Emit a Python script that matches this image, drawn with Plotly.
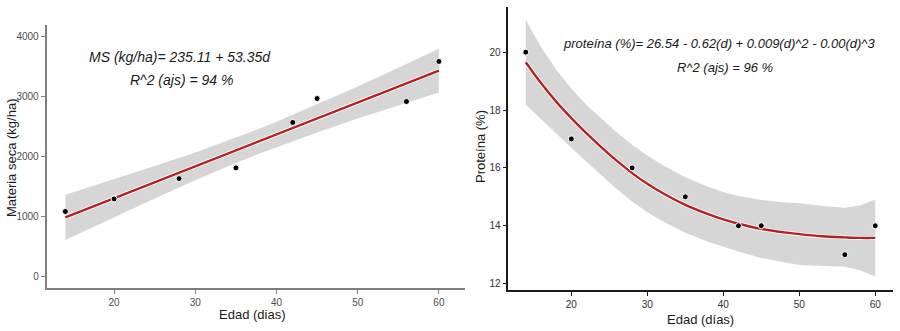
import plotly.graph_objects as go

# ---------------- data ----------------
edad = [14, 20, 28, 35, 42, 45, 56, 60]
materia_seca = [1080, 1290, 1630, 1810, 2570, 2970, 2920, 3590]
proteina = [20, 17, 16, 15, 14, 14, 13, 14]

# fitted line + 95% band (left panel)
ms_fit_x = [14, 20, 25, 30, 35, 37.5, 40, 45, 50, 55, 60]
ms_fit_y = [982, 1302, 1569, 1836, 2103, 2236, 2370, 2636, 2903, 3170, 3437]
ms_lo = [602, 984, 1299, 1604, 1891, 2028, 2158, 2401, 2635, 2855, 3072]
ms_hi = [1362, 1620, 1839, 2068, 2315, 2444, 2582, 2871, 3171, 3485, 3802]

# fitted curve + 95% band (right panel)
pr_fit_x = [14, 16, 18, 20, 22, 24, 26, 28, 30, 32, 35, 38, 40, 42, 45, 48, 50, 53, 56, 58, 60]
pr_fit_y = [19.65, 18.93, 18.29, 17.72, 17.19, 16.70, 16.24, 15.82, 15.45, 15.13, 14.72,
            14.40, 14.22, 14.07, 13.89, 13.77, 13.71, 13.64, 13.60, 13.58, 13.58]
pr_lo = [18.18, 17.68, 17.19, 16.70, 16.21, 15.72, 15.26, 14.84, 14.47, 14.16, 13.76,
         13.45, 13.27, 13.11, 12.89, 12.74, 12.64, 12.60, 12.58, 12.46, 12.25]
pr_hi = [21.12, 20.18, 19.39, 18.74, 18.17, 17.68, 17.22, 16.80, 16.43, 16.10, 15.68,
         15.35, 15.17, 15.03, 14.89, 14.80, 14.78, 14.68, 14.62, 14.70, 14.91]

ms_ticks = [0, 1000, 2000, 3000, 4000]
pr_ticks = [12, 14, 16, 18, 20]
x_ticks = [20, 30, 40, 50, 60]

W, H = 900, 331


def px(x):
    return x / W


def py(y):
    return 1 - y / H


FONT = "Arial, Liberation Sans, sans-serif"
RIBBON = "rgba(153,153,153,0.4)"
RED = "#B22222"

fig = go.Figure()

# ---- left panel ----
fig.add_trace(go.Scatter(x=ms_fit_x + ms_fit_x[::-1], y=ms_hi + ms_lo[::-1], fill="toself",
                         fillcolor=RIBBON, line=dict(width=0), mode="lines",
                         hoverinfo="skip", xaxis="x", yaxis="y"))
fig.add_trace(go.Scatter(x=ms_fit_x, y=ms_fit_y, mode="lines",
                         line=dict(color="white", width=4), xaxis="x", yaxis="y"))
fig.add_trace(go.Scatter(x=ms_fit_x, y=ms_fit_y, mode="lines",
                         line=dict(color=RED, width=2.4), xaxis="x", yaxis="y"))
fig.add_trace(go.Scatter(x=edad, y=materia_seca, mode="markers",
                         marker=dict(color="black", size=6, line=dict(color="white", width=1)),
                         xaxis="x", yaxis="y"))

# ---- right panel ----
fig.add_trace(go.Scatter(x=pr_fit_x + pr_fit_x[::-1], y=pr_hi + pr_lo[::-1], fill="toself",
                         fillcolor=RIBBON, line=dict(width=0), mode="lines",
                         hoverinfo="skip", xaxis="x2", yaxis="y2"))
fig.add_trace(go.Scatter(x=pr_fit_x, y=pr_fit_y, mode="lines", line_shape="spline",
                         line=dict(color="white", width=4), xaxis="x2", yaxis="y2"))
fig.add_trace(go.Scatter(x=pr_fit_x, y=pr_fit_y, mode="lines", line_shape="spline",
                         line=dict(color=RED, width=2.4), xaxis="x2", yaxis="y2"))
fig.add_trace(go.Scatter(x=edad, y=proteina, mode="markers",
                         marker=dict(color="black", size=6, line=dict(color="white", width=1)),
                         xaxis="x2", yaxis="y2"))

left_axis = dict(showline=True, linecolor="#7F7F7F", linewidth=2, ticks="outside", ticklen=4,
                 tickwidth=1.2, tickcolor="#7F7F7F", showgrid=False, zeroline=False,
                 tickfont=dict(family=FONT, size=10, color="#4D4D4D"))
right_axis = dict(showline=True, linecolor="#1A1A1A", linewidth=1.6, ticks="outside", ticklen=4,
                  tickwidth=1.2, tickcolor="#1A1A1A", showgrid=False, zeroline=False,
                  tickfont=dict(family=FONT, size=10, color="#333333"))

fig.update_layout(
    width=W, height=H, margin=dict(l=0, r=0, t=0, b=0),
    paper_bgcolor="white", plot_bgcolor="rgba(0,0,0,0)", showlegend=False,
    xaxis=dict(domain=[px(46.7), px(464.9)], range=[11.7, 63.2], tickvals=x_ticks,
               anchor="y", **left_axis),
    yaxis=dict(domain=[py(288), py(25)], range=[-200, 4200], tickvals=ms_ticks,
               anchor="x", **left_axis),
    xaxis2=dict(domain=[px(508.3), px(892.7)], range=[11.7, 62.3], tickvals=x_ticks,
                anchor="y2", **right_axis),
    yaxis2=dict(domain=[py(290), py(7)], range=[11.78, 21.56], tickvals=pr_ticks,
                anchor="x2", **right_axis),
)

ann = [
    ("<i>MS (kg/ha)= 235.11 + 53.35d</i>", 179.5, 57, 14, 0),
    ("<i>R^2 (ajs) = 94 %</i>", 181.5, 80, 14, 0),
    ("<i>proteína (%)= 26.54 - 0.62(d) + 0.009(d)^2 - 0.00(d)^3</i>", 719, 43, 13, 0),
    ("<i>R^2 (ajs) = 96 %</i>", 725, 67, 13, 0),
    ("Edad (dias)", 252, 314, 13, 0),
    ("Edad (días)", 700, 319, 13, 0),
    ("Materia seca (kg/ha)", 11, 158, 13, -90),
    ("Proteína (%)", 480, 147, 13, -90),
]
for text, x, y, size, ang in ann:
    fig.add_annotation(text=text, x=px(x), y=py(y), xref="paper", yref="paper",
                       xanchor="center", yanchor="middle", showarrow=False, textangle=ang,
                       font=dict(family=FONT, size=size, color="#1A1A1A"))

fig.write_html("out.html")
